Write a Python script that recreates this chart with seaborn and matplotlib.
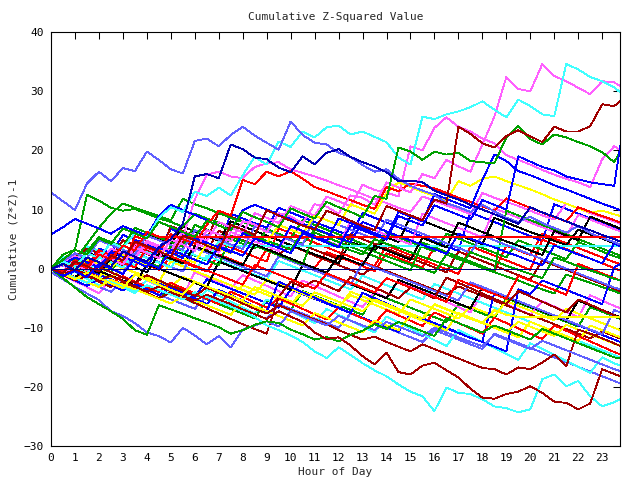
import numpy as np
import pandas as pd
import matplotlib
matplotlib.use("Agg")
import matplotlib.pyplot as plt
import seaborn as sns

# Style: plain white, gnuplot-like
sns.set_style("white")
plt.rcParams['font.family'] = ['DejaVu Sans Mono']
plt.rcParams['font.size'] = 8

# Sample times (half-hour steps, last point at 23:45)
hours = np.append(np.arange(0, 23.6, 0.5), 23.75)

# Estimated series values
slate_top = [12.9, 11.4, 9.9, 14.4, 16.4, 14.8, 17.0, 16.5,
             19.8, 18.4, 16.8, 16.1, 21.6, 22.0, 20.7, 22.6,
             24.0, 22.5, 21.3, 20.1, 24.9, 22.6, 21.3, 21.0,
             19.6, 18.9, 17.5, 16.4, 16.8, 15.2, 14.0, 13.2,
             12.5, 11.1, 10.4, 9.6, 10.8, 9.7, 8.6, 7.9,
             8.8, 7.7, 6.9, 6.1, 7.2, 6.0, 5.2, 4.5, 4.1]
cyan_top = [0.0, 1.2, 0.4, 2.6, 1.8, 4.4, 3.5, 6.0,
            5.2, 8.6, 10.4, 9.6, 13.0, 12.3, 13.7, 12.4,
            15.8, 18.9, 17.6, 21.5, 20.6, 23.2, 22.2, 23.9,
            24.2, 22.7, 23.2, 22.3, 21.4, 18.8, 17.6, 25.7,
            25.3, 26.1, 26.6, 27.3, 28.3, 26.9, 25.6, 28.6,
            27.5, 26.1, 25.8, 34.6, 33.7, 32.4, 31.7, 30.7, 29.8]
magenta_top = [0.0, -1.1, 0.8, -0.3, 2.5, 1.7, 0.7, 3.6,
               2.6, 1.8, 4.9, 4.1, 3.0, 6.5, 5.8, 4.6,
               8.0, 7.5, 6.1, 9.4, 8.8, 7.7, 10.9, 10.5,
               9.3, 12.4, 12.0, 10.8, 14.6, 13.7, 12.9, 16.0,
               15.3, 18.4, 17.3, 16.4, 21.0, 25.7, 32.4, 30.4,
               30.0, 34.6, 32.6, 31.7, 30.6, 29.5, 31.7, 31.5, 30.9]
magenta_b = [0.0, 0.9, 2.1, 1.3, 0.5, 3.4, 2.6, 1.7,
             4.7, 3.9, 3.0, 6.3, 5.6, 4.7, 7.9, 7.0,
             6.1, 9.4, 8.6, 7.7, 10.6, 9.8, 8.9, 12.2,
             11.4, 10.6, 14.2, 13.3, 12.9, 12.2, 20.7, 20.0,
             23.8, 25.6, 24.0, 23.2, 22.0, 21.2, 19.2, 18.4,
             17.6, 16.7, 15.9, 15.2, 14.6, 13.8, 18.5, 20.7, 20.1]
darkred_top = [0.0, -0.8, 1.2, 0.4, -0.5, 2.2, 1.4, 4.6,
               3.8, 2.9, 2.1, 5.6, 4.8, 3.9, 3.1, 7.4,
               6.6, 5.7, 9.9, 9.0, 8.1, 7.3, 6.6, 9.8,
               9.0, 8.1, 7.2, 6.5, 10.6, 9.8, 9.0, 8.2,
               11.7, 11.0, 24.0, 22.8, 21.2, 20.5, 22.4, 23.4,
               22.4, 21.4, 24.0, 23.2, 23.2, 24.1, 27.8, 27.5, 28.3]
green_top = [0.0, 1.5, 3.2, 2.4, 5.1, 4.2, 6.8, 6.0,
             5.1, 7.9, 7.1, 6.2, 5.4, 8.1, 7.3, 6.5,
             9.6, 8.7, 7.9, 7.0, 10.2, 9.3, 8.5, 11.3,
             10.4, 9.6, 8.7, 12.3, 11.8, 20.5, 19.8, 18.4,
             19.8, 19.3, 19.6, 18.2, 18.0, 17.8, 22.2, 24.1,
             21.9, 21.0, 22.7, 22.2, 21.4, 20.7, 19.7, 18.0, 19.8]
navy_high = [0.0, 0.8, -0.3, 1.9, 1.1, 0.3, 2.9, 2.0,
             1.2, 3.6, 5.0, 7.6, 15.6, 16.0, 15.3, 21.0,
             20.2, 18.8, 18.5, 17.1, 16.3, 19.0, 17.6, 19.6,
             20.2, 18.9, 18.0, 17.3, 16.3, 14.8, 14.9, 14.6,
             13.2, 12.4, 11.7, 10.8, 10.0, 9.2, 8.4, 7.6,
             10.4, 9.5, 8.8, 8.0, 7.2, 6.5, 5.7, 5.0, 4.6]
red_high = [0.0, -0.7, 1.4, 0.6, 3.1, 2.3, 1.4, 4.4,
            3.6, 2.8, 5.8, 5.0, 4.2, 7.4, 9.8, 9.0,
            15.0, 14.3, 16.4, 15.6, 16.5, 15.2, 13.8, 13.1,
            12.3, 11.6, 10.8, 10.1, 13.8, 13.1, 14.4, 14.0,
            13.6, 12.8, 12.0, 11.3, 10.5, 9.8, 11.9, 11.1,
            10.3, 9.5, 8.7, 8.0, 10.4, 9.6, 8.9, 8.2, 7.8]
magenta_mid = [0.0, 0.6, -0.3, 1.8, 1.0, 0.1, 2.7, 1.9,
               4.4, 3.6, 2.8, 5.3, 11.7, 15.9, 16.4, 15.6,
               15.3, 17.2, 17.8, 18.0, 16.8, 16.2, 15.6, 14.9,
               14.1, 13.4, 12.6, 11.8, 11.1, 10.3, 9.6, 12.2,
               11.5, 10.7, 10.0, 9.2, 12.8, 12.0, 11.3, 10.6,
               9.8, 9.0, 8.3, 11.0, 10.2, 9.4, 8.7, 8.0, 7.6]
blue_late = [0.0, -1.2, -0.4, -1.5, 0.8, 0.0, -0.9, 1.7,
             0.9, 0.1, 3.2, 2.4, 1.5, 0.7, 3.8, 3.0,
             2.2, 5.1, 4.3, 3.5, 2.6, 6.0, 5.2, 4.4,
             3.6, 7.3, 6.5, 5.7, 4.9, 8.9, 8.1, 7.3,
             10.7, 9.9, 9.1, 8.3, 11.6, 10.8, 10.0, 19.0,
             18.1, 17.2, 16.6, 15.6, 15.1, 14.6, 14.3, 14.0, 20.7]
blue_mid = [0.0, 0.7, 1.9, 1.1, 0.2, 2.8, 2.0, 1.2,
            0.3, 3.5, 2.7, 1.8, 5.2, 4.4, 3.6, 2.7,
            6.0, 5.1, 4.3, 3.5, 7.2, 6.4, 5.5, 4.7,
            8.5, 7.7, 6.9, 6.0, 5.2, 9.6, 8.8, 8.0,
            12.6, 11.8, 11.0, 10.2, 15.0, 19.3, 18.2, 16.5,
            15.8, 15.0, 14.1, 13.4, 12.6, 11.8, 11.0, 10.3, 9.9]
blue_start = [5.8, 7.0, 8.4, 7.6, 6.8, 5.9, 7.2, 6.4,
              5.6, 8.9, 10.8, 9.9, 9.1, 8.2, 7.3, 6.5,
              9.9, 10.8, 10.0, 9.2, 8.4, 7.6, 6.8, 6.0,
              5.2, 4.5, 7.9, 7.1, 6.3, 5.5, 4.8, 4.0,
              3.3, 2.5, 5.9, 5.1, 4.3, 3.6, 2.8, 2.1,
              1.3, 0.6, 3.9, 3.2, 2.4, 1.7, 0.9, 4.2, 3.8]
green_early = [0.0, 2.4, 3.2, 12.5, 11.5, 10.3, 9.8, 10.1,
               9.3, 8.5, 7.9, 7.1, 9.3, 8.5, 7.8, 7.0,
               6.2, 5.5, 4.7, 4.0, 3.2, 6.1, 5.3, 4.6,
               3.8, 3.1, 2.4, 5.0, 4.2, 3.5, 2.8, 2.0,
               1.3, 0.6, -0.1, 2.8, 2.0, 1.3, 0.5, -0.2,
               -0.9, -1.6, 1.9, 1.2, 0.4, -0.3, -1.0, -1.7, -2.0]
green_mid = [0.0, -0.5, 1.4, 4.2, 6.9, 9.3, 11.0, 10.3,
             9.6, 8.9, 8.2, 11.8, 10.9, 10.2, 9.4, 8.6,
             7.9, 7.1, 6.4, 5.7, 4.9, 4.2, 6.6, 5.9,
             5.1, 4.3, 3.6, 2.9, 2.1, 1.4, 0.7, 0.0,
             -0.7, 2.4, 1.6, 0.9, 0.1, -0.6, -1.3, -2.0,
             -2.8, -3.5, -4.2, -1.0, -1.7, -2.4, -3.1, -3.8, -4.2]
cyan_flat = [0.0, 0.9, 0.1, -0.8, 1.9, 1.1, 0.2, 2.6,
             1.8, 1.0, 0.2, 3.1, 2.3, 1.5, 4.6, 3.8] + [3.8] * 33
red_flat = [0.0, -0.6, 0.9, 0.1, 2.4, 1.6, 3.9, 3.1, 6.2, 5.4] + [5.4] * 39
yellow_flat = [0.0, -0.9, -1.8, -0.7, -1.6, -2.5, -3.3, -1.0,
               -1.9, -2.7, -3.6, -4.4, -2.2, -3.0, -3.8, -4.6,
               -5.4, -3.1, -3.9, -4.7, -5.5, -6.3, -4.0, -4.8,
               -5.6, -6.4, -7.2, -5.2, -6.0, -6.8, -7.6, -8.4,
               -6.1, -6.9, -7.7, -8.5, -9.2, -7.0, -7.8] + [-8.2] * 10
navy_zero = [0.0] * 49
slate_low = [-0.6, -1.8, -3.1, -4.2, -5.3, -7.2, -8.0, -9.2,
             -10.8, -11.4, -12.5, -10.0, -11.3, -12.8, -11.4, -13.3,
             -10.3, -9.6, -8.9, -9.8, -7.2, -8.0, -8.8, -9.6,
             -8.0, -8.8, -9.6, -10.4, -9.0, -9.8, -10.6, -11.4,
             -10.0, -10.8, -11.6, -12.4, -13.1, -11.2, -12.0, -12.8,
             -13.6, -12.2, -13.0, -13.8, -14.6, -15.4, -16.2, -17.0, -17.3]
green_low = [0.0, -1.6, -3.2, -4.8, -6.0, -7.2, -8.5, -10.4,
             -11.2, -6.2, -6.9, -7.6, -8.4, -9.1, -9.9, -11.0,
             -10.4, -9.5, -8.9, -9.2, -10.3, -11.1, -12.0, -11.6,
             -12.3, -11.2, -10.5, -9.4, -10.2, -9.0, -9.8, -10.6,
             -11.4, -8.4, -9.2, -10.0, -10.8, -9.6, -10.4, -11.2,
             -12.0, -10.2, -11.0, -11.8, -12.6, -13.4, -14.2, -15.0, -15.2]
cyan_low = [0.0, -0.8, -1.6, -2.4, -1.5, -2.3, -3.1, -3.9,
            -2.8, -3.6, -4.4, -5.2, -4.0, -4.8, -5.6, -6.4,
            -7.2, -8.2, -9.6, -10.4, -11.3, -12.4, -14.0, -15.1,
            -13.3, -14.6, -16.0, -17.2, -18.2, -19.6, -20.8, -21.6,
            -24.1, -20.1, -21.0, -21.2, -22.1, -23.3, -23.6, -24.3,
            -23.8, -18.7, -17.9, -19.9, -19.0, -21.6, -23.3, -22.6, -22.1]
darkred_low = [0.0, -0.9, -0.2, -1.1, -2.0, -1.2, -2.1, -3.0,
               -3.9, -3.0, -3.8, -4.6, -5.4, -4.4, -5.2, -6.0,
               -6.9, -7.7, -8.5, -7.2, -8.1, -9.0, -10.8, -11.9,
               -11.6, -13.0, -14.8, -16.2, -14.2, -17.5, -17.9, -16.4,
               -15.9, -17.2, -18.4, -20.3, -21.8, -22.0, -21.2, -20.8,
               -19.9, -21.0, -22.5, -22.7, -23.8, -22.8, -17.0, -17.8, -18.2]
darkred_low2 = [0.0, 0.8, -0.1, -1.0, 0.3, -0.6, -1.5, -2.4,
                -1.1, -2.0, -2.9, -3.7, -4.6, -3.2, -4.1, -5.0,
                -5.9, -6.8, -7.6, -6.2, -7.0, -7.8, -8.6, -9.4,
                -10.4, -11.2, -12.0, -11.5, -12.4, -13.2, -14.0, -12.8,
                -13.6, -14.4, -15.2, -16.0, -16.8, -17.0, -17.9, -16.7,
                -17.0, -15.9, -14.5, -16.5, -10.3, -11.0, -11.8, -12.6, -13.1]
darkred_jump = [0.0, -1.0, -2.0, -1.2, -2.2, -3.1, -2.3, -3.2,
                -4.1, -5.0, -4.0, -4.9, -5.8, -6.7, -7.6, -8.5,
                -9.4, -10.2, -11.0, -4.8, -2.2, -3.1, -2.0, -2.9,
                -3.8, -1.4, -2.3, -3.2, -4.1, -5.0, -3.2, -4.1,
                -5.0, -1.5, -2.4, -3.3, -4.2, -5.1, -6.0, -3.8,
                -4.7, -5.6, -6.5, -7.4, -5.2, -6.1, -7.0, -7.9, -8.3]
black_a = [0.0, 1.3, 0.5, 2.8, 2.0, 1.2, 3.9, 3.1,
           5.8, 5.0, 4.2, 7.1, 6.3, 5.5, 4.7, 8.0,
           7.2, 6.4, 5.6, 4.8, 4.0, 3.2, 2.4, 1.7,
           0.9, 4.5, 3.8, 3.0, 5.3, 4.5, 8.9, 8.1,
           7.3, 6.5, 5.7, 4.9, 4.1, 8.6, 7.8, 7.0,
           6.2, 5.5, 4.7, 4.0, 6.6, 5.8, 5.1, 4.3, 4.0]
black_b = [0.0, -0.8, 0.9, 0.1, -0.7, 1.8, 1.0, 0.2,
           -0.6, 2.5, 1.7, 0.9, 3.8, 3.0, 2.2, 1.4,
           0.6, 4.1, 3.3, 2.5, 1.7, 0.9, 0.1, -0.7,
           2.2, 1.4, 0.6, 3.9, 3.1, 2.3, 1.5, 5.2,
           4.4, 3.6, 7.8, 7.0, 6.2, 5.4, 4.6, 3.9,
           3.1, 2.3, 6.4, 5.6, 4.8, 8.8, 8.0, 7.2, 6.8]
yellow_high = [0.0, 0.7, -0.2, 1.6, 0.8, 0.0, 2.3, 1.5,
               0.7, 3.4, 2.6, 1.8, 1.0, 4.2, 3.4, 2.6,
               5.9, 5.1, 4.3, 7.4, 6.6, 5.8, 9.0, 8.2,
               7.4, 10.9, 10.1, 9.3, 12.8, 14.6, 13.8, 13.0,
               12.3, 11.5, 14.8, 14.0, 15.2, 15.6, 14.8, 14.1,
               13.4, 12.6, 11.7, 11.0, 10.2, 9.5, 9.8, 9.2, 8.9]
yellow_low = [0.0, -0.7, -1.5, -2.3, -3.1, -1.9, -2.7, -3.5,
              -4.3, -5.1, -5.9, -4.6, -5.4, -6.2, -7.0, -7.8,
              -5.6, -6.4, -7.2, -8.0, -8.8, -9.6, -7.5, -8.3,
              -9.1, -9.9, -10.7, -8.8, -9.6, -10.4, -8.0, -8.8,
              -9.6, -10.4, -7.5, -8.3, -9.1, -9.9, -10.7, -9.0,
              -9.8, -10.6, -11.4, -9.5, -10.3, -11.1, -11.9, -12.7, -13.0]
yellow_mid = [0.0, -0.6, 0.8, 0.0, -0.8, -1.6, 0.2, -0.6,
              -1.4, -2.2, -3.0, -1.4, -2.2, -3.0, -3.8, -4.6,
              -2.8, -3.6, -4.4, -5.2, -6.0, -3.9, -4.7, -5.5,
              -6.3, -4.5, -5.3, -6.1, -6.9, -7.7, -5.2, -6.0,
              -6.8, -7.6, -8.4, -6.4, -7.2, -8.0, -5.5, -6.3,
              -7.1, -7.9, -8.7, -6.8, -7.6, -8.4, -9.2, -10.0, -10.4]
red_neg = [0.0, -0.9, -1.8, -0.6, -1.5, -2.4, -1.3, -2.2,
           -3.1, -4.0, -2.4, -3.3, -4.2, -5.1, -6.0, -3.9,
           -4.8, -5.7, -6.6, -5.0, -5.9, -6.8, -7.7, -8.6,
           -6.6, -7.5, -8.4, -9.3, -7.0, -7.9, -8.8, -9.7,
           -7.4, -8.3, -9.2, -10.1, -11.0, -8.3, -9.2, -10.1,
           -11.0, -11.9, -9.6, -10.5, -11.4, -12.3, -13.2, -14.1, -14.5]
red_zero = [0.0, 0.8, 2.1, 1.3, 0.5, 3.0, 2.2, 1.4,
            0.6, -0.2, 1.9, 1.1, 0.3, -0.5, 2.4, 1.6,
            0.8, 0.0, 3.3, 2.5, 1.7, 0.9, 0.1, 2.8,
            2.0, 1.2, 0.4, -0.4, 2.6, 1.8, 1.0, 0.2,
            3.6, 2.8, 2.0, 1.2, 0.4, -0.4, 3.9, 3.1,
            2.3, 5.9, 5.1, 4.3, 3.5, 2.7, 1.9, 1.1, 0.8]
red_drift = [0.0, -0.5, 1.0, 0.2, 2.6, 1.8, 1.0, 0.2,
             3.7, 2.9, 2.1, 1.3, 0.5, -0.3, -1.1, -1.9,
             -2.7, 0.6, -0.2, -1.0, -1.8, -2.6, -3.4, -0.8,
             -1.6, -2.4, -3.2, -4.0, -1.6, -2.4, -3.2, -4.0,
             -4.8, -5.6, -1.9, -2.7, -3.5, -4.3, -5.1, -1.2,
             -2.0, -2.8, -3.6, -4.4, 0.8, 0.0, -0.8, -1.6, -2.0]
blue_jump = [0.0, -1.1, -2.0, -2.9, -1.8, -2.7, -3.7, -2.6,
             -3.5, -4.5, -3.2, -4.2, -5.1, -6.0, -3.6, -4.5,
             -5.4, -6.4, -7.3, -2.2, -3.1, -4.0, -4.9, -5.8,
             -6.6, -7.5, -4.1, -5.0, -5.9, -6.8, -7.6, -8.5,
             -9.3, -10.1, -10.9, -11.7, -12.4, -13.2, -14.0, -3.5,
             -4.3, -2.0, -2.8, -3.6, -4.4, -5.2, -6.0, 0.2, 0.8]
blue_pos = [0.0, 1.8, 1.0, 0.2, 3.4, 2.6, 5.7, 4.9,
            4.1, 3.3, 6.7, 5.9, 5.1, 4.3, 3.5, 9.3,
            8.5, 7.7, 6.9, 10.3, 9.5, 8.7, 7.9, 7.1,
            6.3, 5.5, 9.4, 8.6, 7.8, 7.0, 6.2, 5.4,
            4.6, 3.8, 3.0, 9.5, 8.7, 7.9, 7.1, 6.3,
            5.5, 4.7, 10.9, 10.1, 9.3, 8.5, 7.7, 6.9, 6.5]
green_neg = [0.0, -0.8, -1.6, -2.4, -1.0, -1.8, -2.6, -3.4,
             -4.2, -5.0, -2.8, -3.6, -4.4, -5.2, -6.0, -6.8,
             -7.6, -8.4, -5.4, -6.2, -7.0, -3.8, -4.6, -5.4,
             -6.2, -7.0, -7.8, -4.2, -5.0, -5.8, -6.6, -7.4,
             -8.2, -9.0, -6.0, -6.8, -7.6, -8.4, -5.0, -5.8,
             -6.6, -7.4, -8.2, -9.0, -9.8, -6.5, -7.3, -8.1, -8.5]
magenta_neg = [0.0, -1.1, -2.1, -3.1, -4.2, -1.8, -2.7, -3.6,
               -2.0, -2.9, -3.8, -4.7, -0.6, -1.5, -2.4, -3.3,
               -1.1, -2.0, -2.9, -3.8, -4.7, -2.0, -2.9, -3.8,
               -4.7, -5.6, -6.5, -4.0, -4.9, -2.0, -2.9, -3.8,
               -4.7, -5.6, -6.5, -7.4, -4.2, -5.1, -6.0, -6.9,
               -7.8, -5.5, -6.4, -7.3, -8.2, -4.5, -5.4, -6.3, -6.7]
cyan_mid = [0.0, 2.0, 1.2, 3.8, 3.0, 2.2, 1.4, 0.6,
            2.9, 2.1, 1.3, 0.5, -0.3, 2.2, 1.4, 0.6,
            -0.2, -1.0, -1.8, 1.3, 0.5, -0.3, -1.1, -1.9,
            -2.7, -3.5, -1.2, -2.0, -2.8, -3.6, -4.4, -5.2,
            -2.6, -3.4, -4.2, -5.0, -5.8, -6.6, -7.4, -8.2,
            -9.0, -9.8, -10.6, -11.4, -12.2, -13.0, -13.8, -14.6, -15.0]
slate_neg = [0.0, -0.6, -1.5, -2.3, -3.1, -3.9, -2.0, -2.8,
             -3.6, -4.4, -5.2, -6.0, -6.8, -4.5, -5.3, -6.1,
             -6.9, -7.7, -8.5, -6.0, -6.8, -7.6, -8.4, -9.2,
             -10.0, -7.6, -8.4, -9.2, -10.0, -10.8, -11.6, -12.4,
             -10.4, -11.2, -12.0, -12.8, -13.6, -11.0, -11.8, -12.6,
             -13.4, -14.2, -15.0, -15.8, -16.6, -17.4, -18.2, -19.0, -19.4]
slate_pos = [0.0, 1.1, 2.6, 1.8, 4.8, 4.0, 3.2, 2.4,
             5.6, 4.8, 4.0, 3.2, 6.5, 5.7, 4.9, 4.1,
             3.3, 7.2, 6.4, 5.6, 4.8, 4.0, 9.0, 8.2,
             7.4, 6.6, 5.8, 5.0, 8.3, 7.5, 6.7, 5.9,
             5.1, 4.3, 3.5, 2.7, 5.6, 4.8, 4.0, 3.2,
             2.4, 1.6, 0.8, 0.0, -0.8, -1.6, -2.4, -3.2, -3.5]
darkred_fall = [0.0, 0.9, 2.0, 3.4, 2.6, 1.8, 4.8, 4.0,
                3.2, 2.4, 1.6, 4.6, 3.8, 3.0, 6.4, 5.6,
                4.8, 4.0, 3.2, 2.4, 3.9, 3.1, 2.2, 1.4,
                0.6, -0.2, -1.0, 0.4, -0.4, -1.2, -2.0, -2.8,
                -3.6, -4.4, -3.0, -3.8, -4.6, -5.4, -6.2, -7.0,
                -7.8, -8.6, -9.4, -10.2, -11.0, -11.8, -10.6, -11.4, -11.8]
green_pos = [0.0, 1.6, 0.8, 2.9, 5.3, 4.5, 3.7, 6.9,
             6.1, 5.3, 4.5, 3.7, 7.4, 6.6, 5.8, 5.0,
             4.2, 3.4, 6.7, 5.9, 5.1, 8.2, 7.4, 6.6,
             5.8, 5.0, 4.2, 3.4, 6.1, 5.3, 4.5, 3.7,
             2.9, 5.9, 5.1, 4.3, 3.5, 2.7, 1.9, 4.8,
             4.0, 3.2, 2.4, 1.6, 4.5, 3.7, 2.9, 2.1, 1.8]
magenta_pos = [0.0, -0.4, 1.7, 0.9, 0.1, 2.3, 1.5, 4.2,
               3.4, 2.6, 1.8, 5.1, 4.3, 3.5, 2.7, 6.2,
               5.4, 4.6, 3.8, 3.0, 7.1, 6.3, 5.5, 4.7,
               3.9, 8.1, 7.3, 6.5, 5.7, 4.9, 4.1, 9.3,
               8.5, 7.7, 6.9, 6.1, 5.3, 10.2, 9.4, 8.6,
               7.8, 7.0, 6.2, 5.4, 9.1, 8.3, 7.5, 6.7, 6.3]
cyan_neg = [0.0, -1.3, -0.5, -1.7, -2.8, -2.0, -3.1, -4.2,
            -1.9, -2.9, -3.9, -4.9, -5.9, -3.6, -4.6, -5.6,
            -6.6, -7.6, -5.2, -6.2, -7.2, -8.2, -9.2, -6.8,
            -7.8, -8.8, -9.8, -10.8, -8.1, -9.1, -10.1, -11.1,
            -12.1, -13.1, -10.4, -11.4, -12.4, -13.4, -14.4, -15.4,
            -12.6, -13.6, -14.6, -15.6, -16.6, -17.6, -15.0, -16.0, -16.4]
darkred_mid = [0.0, 1.1, 0.3, -0.5, 2.0, 1.2, 0.4, 3.3,
               2.5, 1.7, 7.2, 6.4, 5.6, 4.8, 9.6, 8.8,
               8.0, 7.2, 6.4, 5.6, 4.8, 4.0, 3.2, 2.4,
               1.6, 5.8, 5.0, 4.2, 3.4, 2.6, 1.8, 1.0,
               0.2, -0.6, 2.9, 2.1, 1.3, 0.5, -0.3, -1.1,
               -1.9, 1.4, 0.6, -0.2, -1.0, -1.8, -2.6, -3.4, -3.8]
blue_neg = [0.0, -0.6, -1.4, -0.2, -1.0, -1.8, -2.6, -0.9,
            -1.7, -2.5, -3.3, -4.1, -4.9, -1.8, -2.6, -3.4,
            -4.2, -5.0, -5.8, -6.6, -3.5, -4.3, -5.1, -5.9,
            -6.7, -7.5, -8.3, -9.1, -9.9, -10.7, -7.6, -8.4,
            -9.2, -10.0, -10.8, -11.6, -12.4, -4.0, -4.8, -5.6,
            -6.4, -7.2, -8.0, -8.8, -9.6, -10.4, -11.2, -12.0, -12.4]
red_pos = [0.0, 1.4, 0.6, -0.2, 1.9, 1.1, 0.3, 5.5,
           4.7, 3.9, 3.1, 2.3, 1.5, 0.7, 4.4, 3.6,
           2.8, 2.0, 1.2, 6.8, 6.0, 5.2, 4.4, 3.6,
           2.8, 2.0, 1.2, 0.4, 3.9, 3.1, 2.3, 1.5,
           0.7, -0.1, -0.9, 3.8, 3.0, 2.2, 1.4, 0.6,
           -0.2, 4.9, 4.1, 3.3, 2.5, 1.7, 0.9, 0.1, -0.3]
black_c = [0.0, -0.7, -1.5, 0.4, -0.4, -1.2, -2.0, -2.8,
           0.8, 0.0, -0.8, -1.6, -2.4, -3.2, 1.2, 0.4,
           -0.4, -1.2, -2.0, -2.8, -3.6, 0.6, -0.2, -1.0,
           -1.8, -2.6, -3.4, -4.2, -5.0, -1.9, -2.7, -3.5,
           -4.3, -5.1, -5.9, -6.7, -3.2, -4.0, -4.8, -5.6,
           -6.4, -7.2, -8.0, -8.8, -5.4, -6.2, -7.0, -7.8, -8.2]
slate_mid = [0.0, 0.5, -0.3, 1.6, 0.8, 0.0, -0.8, 2.7,
             1.9, 1.1, 0.3, -0.5, 3.5, 2.7, 1.9, 1.1,
             0.3, -0.5, -1.3, 2.1, 1.3, 0.5, -0.3, -1.1,
             -1.9, -2.7, 1.0, 0.2, -0.6, -1.4, -2.2, -3.0,
             -3.8, -4.6, -5.4, -2.3, -3.1, -3.9, -4.7, -5.5,
             -6.3, -7.1, -7.9, -8.7, -9.5, -10.3, -11.1, -7.0, -7.4]
yellow_neg = [0.0, 1.0, 0.2, -0.6, -1.4, 0.9, 0.1, -0.7,
              -1.5, -2.3, 1.2, 0.4, -0.4, -1.2, -2.0, -2.8,
              -3.6, -4.4, -1.8, -2.6, -3.4, -4.2, -5.0, -5.8,
              -6.6, -3.9, -4.7, -5.5, -6.3, -7.1, -7.9, -8.7,
              -6.0, -6.8, -7.6, -8.4, -9.2, -10.0, -10.8, -11.6,
              -9.0, -9.8, -10.6, -11.4, -12.2, -9.6, -10.4, -11.2, -11.6]
green_late = [0.0, 0.6, 1.8, 1.0, 0.2, -0.6, 2.7, 1.9,
              1.1, 0.3, 3.8, 3.0, 2.2, 1.4, 0.6, 5.5,
              4.7, 3.9, 3.1, 2.3, 1.5, 0.7, 6.1, 5.3,
              4.5, 3.7, 2.9, 2.1, 1.3, 0.5, -0.3, 4.4,
              3.6, 2.8, 2.0, 1.2, 0.4, -0.4, 9.8, 9.0,
              8.2, 7.4, 6.6, 5.8, 5.0, 4.2, 3.4, 2.6, 2.2]

# Line colours (gnuplot-ish)
RED, GREEN, BLUE, MAGENTA = '#ff0000', '#00a000', '#0000ff', '#ff60ff'
CYAN, DARKRED, YELLOW, BLACK = '#40ffff', '#a00000', '#ffff00', '#000000'
NAVY, SLATE, DARKBLUE = '#000080', '#6060ff', '#0000b0'

series = [
    ('red_zero', red_zero, RED), ('green_neg', green_neg, GREEN),
    ('blue_pos', blue_pos, BLUE), ('magenta_neg', magenta_neg, MAGENTA),
    ('cyan_mid', cyan_mid, CYAN), ('darkred_fall', darkred_fall, DARKRED),
    ('yellow_mid', yellow_mid, YELLOW), ('black_a', black_a, BLACK),
    ('slate_neg', slate_neg, SLATE), ('red_pos', red_pos, RED),
    ('green_pos', green_pos, GREEN), ('blue_neg', blue_neg, BLUE),
    ('magenta_pos', magenta_pos, MAGENTA), ('cyan_neg', cyan_neg, CYAN),
    ('darkred_mid', darkred_mid, DARKRED), ('yellow_neg', yellow_neg, YELLOW),
    ('black_c', black_c, BLACK), ('slate_mid', slate_mid, SLATE),
    ('green_late', green_late, GREEN),
    ('red_neg', red_neg, RED),
    ('green_mid', green_mid, GREEN), ('blue_jump', blue_jump, BLUE),
    ('magenta_mid', magenta_mid, MAGENTA), ('cyan_flat', cyan_flat, CYAN),
    ('darkred_jump', darkred_jump, DARKRED), ('yellow_low', yellow_low, YELLOW),
    ('black_b', black_b, BLACK), ('slate_pos', slate_pos, SLATE),
    ('red_drift', red_drift, RED), ('green_early', green_early, GREEN),
    ('blue_start', blue_start, BLUE), ('magenta_b', magenta_b, MAGENTA),
    ('cyan_low', cyan_low, CYAN), ('darkred_low2', darkred_low2, DARKRED),
    ('yellow_high', yellow_high, YELLOW), ('slate_low', slate_low, SLATE),
    ('red_high', red_high, RED), ('green_low', green_low, GREEN),
    ('blue_mid', blue_mid, BLUE), ('magenta_top', magenta_top, MAGENTA),
    ('cyan_top', cyan_top, CYAN), ('darkred_low', darkred_low, DARKRED),
    ('yellow_flat', yellow_flat, YELLOW), ('slate_top', slate_top, SLATE),
    ('red_flat', red_flat, RED), ('green_top', green_top, GREEN),
    ('blue_late', blue_late, BLUE), ('darkred_top', darkred_top, DARKRED),
    ('navy_high', navy_high, DARKBLUE), ('navy_zero', navy_zero, NAVY),
]

# Long-form table for seaborn
df = pd.concat([pd.DataFrame({'hour': hours, 'value': vals, 'series': name})
                for name, vals, _ in series], ignore_index=True)
palette = {name: color for name, _, color in series}

fig = plt.figure(figsize=(6.4, 4.8), dpi=100)
ax = fig.add_axes([0.0797, 0.0708, 0.969 - 0.0797, 0.933 - 0.0708])
sns.lineplot(data=df, x='hour', y='value', hue='series', palette=palette,
             hue_order=[s[0] for s in series], estimator=None, sort=False,
             legend=False, ax=ax)
# thin 1px aliased strokes, like the original bitmap output
for line in ax.get_lines():
    line.set_linewidth(0.6)
    line.set_antialiased(False)

ax.set_xlim(0, 23.75)
ax.set_ylim(-30, 40)
ax.set_xticks(range(24))
ax.set_yticks(range(-30, 41, 10))
ax.tick_params(direction='in', length=5, width=0.75, top=True, right=True,
               labelsize=8, colors='black', pad=5)
for spine in ax.spines.values():
    spine.set_visible(True)
    spine.set_color('black')
    spine.set_linewidth(0.8)

ax.set_title('Cumulative Z-Squared Value', fontsize=8, pad=9)
ax.set_xlabel('Hour of Day', fontsize=8, labelpad=3)
ax.set_ylabel('Cumulative (Z*Z)-1', fontsize=8, labelpad=4)

fig.savefig('out.png', dpi=100)
